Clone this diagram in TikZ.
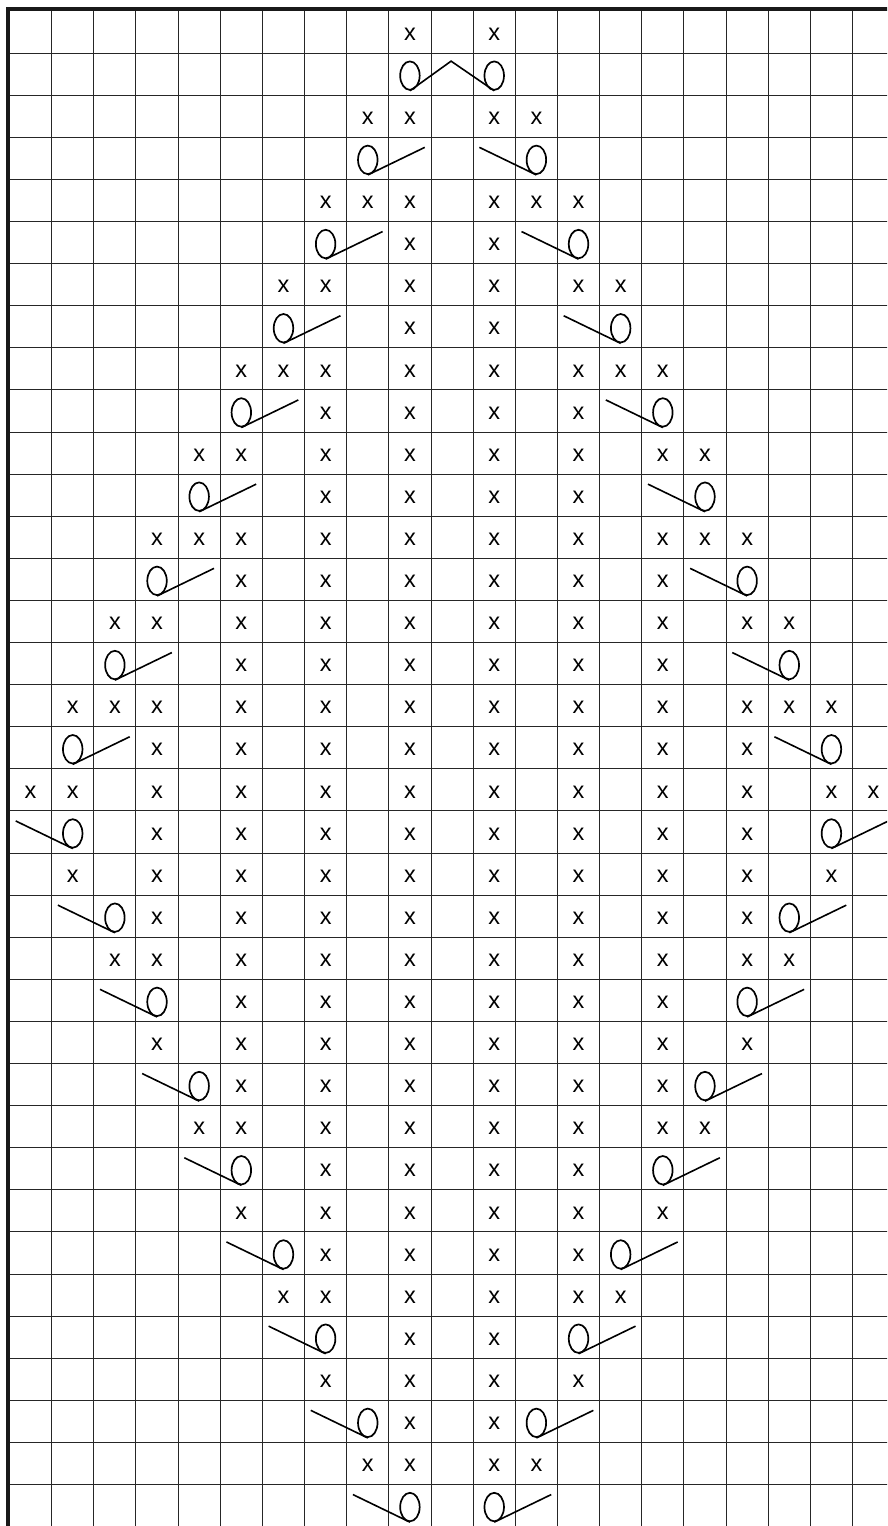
\documentclass[tikz,border=0pt]{standalone}
\usepackage{fontspec}
\setmainfont{Liberation Sans}
\usetikzlibrary{shapes.geometric}
\newcommand\orsym[2]{%
  \pgfmathsetmacro\ocx{9.5+42.15*(#2+0.5)}%
  \pgfmathsetmacro\ocy{11+42.1*(#1+0.5)}%
  \node[yo] (o-#1-#2) at ({\ocx},{\ocy+1.5}) {};
  \coordinate (t-#1-#2) at ({\ocx+57},{\ocy-11});
  \draw[slant] (o-#1-#2.south) -- (t-#1-#2);}
\newcommand\losym[2]{%
  \pgfmathsetmacro\ocx{9.5+42.15*(#2+0.5)}%
  \pgfmathsetmacro\ocy{11+42.1*(#1+0.5)}%
  \node[yo] (o-#1-#2) at ({\ocx},{\ocy+1.5}) {};
  \coordinate (t-#1-#2) at ({\ocx-57},{\ocy-11});
  \draw[slant] (t-#1-#2) -- (o-#1-#2.south);}
\begin{document}
\begin{tikzpicture}[x=1pt,y=-1pt,
  gridline/.style={line width=1pt, black!85},
  border/.style={line width=4pt, black!90, line join=miter},
  stitch/.style={font=\fontsize{23.5}{23.5}\selectfont, inner sep=0pt, anchor=center},
  yo/.style={ellipse, draw, line width=1.7pt, minimum width=19.5pt, minimum height=28.5pt, inner sep=0pt},
  slant/.style={line width=1.6pt}]
\useasboundingbox (0,0) rectangle (887,1526);
\clip (0,0) rectangle (887,1526);
\fill[white] (0,0) rectangle (887,1526);
% grid
\foreach \k in {1,...,21} \draw[gridline] ({9.5+42.15*\k},11) -- ({9.5+42.15*\k},1530);
\foreach \k in {1,...,36} \draw[gridline] (9.5,{11+42.1*\k}) -- (890,{11+42.1*\k});
\draw[border] (8,1530) -- (8,9) -- (890,9);
% knit stitches (symmetric about column 10)
\foreach \r/\cols in {0/{9},2/{8,9},4/{7,8,9},5/{9},6/{6,7,9},7/{9},8/{5,6,7,9},9/{7,9},
  10/{4,5,7,9},11/{7,9},12/{3,4,5,7,9},13/{5,7,9},14/{2,3,5,7,9},15/{5,7,9},
  16/{1,2,3,5,7,9},17/{3,5,7,9},18/{0,1,3,5,7,9},19/{3,5,7,9},20/{1,3,5,7,9},
  21/{3,5,7,9},22/{2,3,5,7,9},23/{5,7,9},24/{3,5,7,9},25/{5,7,9},26/{4,5,7,9},
  27/{7,9},28/{5,7,9},29/{7,9},30/{6,7,9},31/{9},32/{7,9},33/{9},34/{8,9}}{
  \foreach \c in \cols {
    \pgfmathsetmacro\xa{9.5+42.15*(\c+0.5)}
    \pgfmathsetmacro\xb{9.5+42.15*(20-\c+0.5)}
    \pgfmathsetmacro\yy{11+42.1*(\r+0.5)+2}
    \pgfmathtruncatemacro\cm{20-\c}
    \node[stitch] (x-\r-\c) at (\xa,\yy) {x};
    \node[stitch] (x-\r-\cm) at (\xb,\yy) {x};
  }
}
% row 1: paired yarn-overs joined by a zigzag
\pgfmathsetmacro\ya{11+42.1*1.5}
\node[yo] (o-1-9) at ({9.5+42.15*9.5},{\ya+1.5}) {};
\node[yo] (o-1-11) at ({9.5+42.15*11.5},{\ya+1.5}) {};
\coordinate (peak) at ({9.5+42.15*10.5-1},{\ya-13});
\draw[slant] (o-1-9.south) -- (peak) -- (o-1-11.south);
% upper half
\foreach \r in {3,5,...,17} {
  \pgfmathtruncatemacro\c{9-(\r-1)/2}
  \pgfmathtruncatemacro\cm{20-\c}
  \orsym{\r}{\c}
  \losym{\r}{\cm}
}
% lower half
\foreach \r in {19,21,...,35} {
  \pgfmathtruncatemacro\c{(\r-17)/2}
  \pgfmathtruncatemacro\cm{20-\c}
  \losym{\r}{\c}
  \orsym{\r}{\cm}
}
\end{tikzpicture}
\end{document}
